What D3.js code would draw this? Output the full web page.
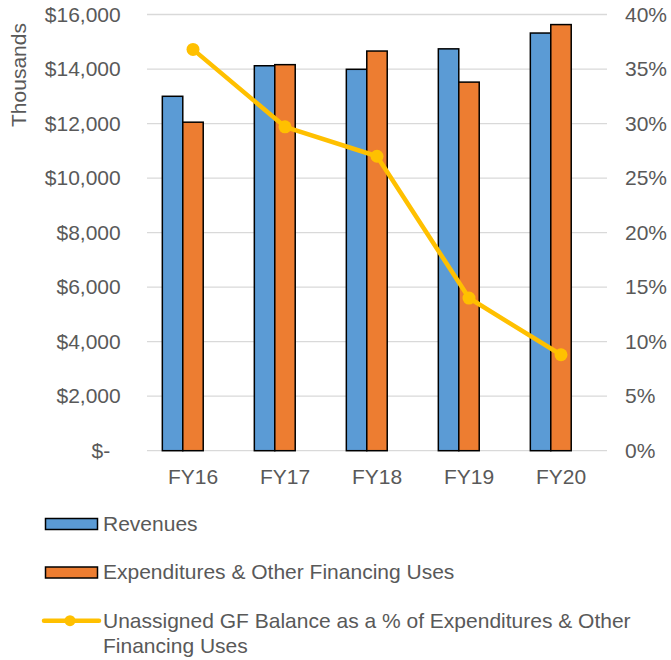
<!DOCTYPE html>
<html lang="en">
<head>
<meta charset="utf-8">
<title>Revenues and Expenditures FY16-FY20</title>
<script src="https://cdn.jsdelivr.net/npm/d3@7"></script>
<style>
    body { margin: 0; background: #fff; }
    text { font-family: "Liberation Sans", Arial, sans-serif; fill: #595959; }
</style>
</head>
<body>
<script>
/* data */
var years = ["FY16", "FY17", "FY18", "FY19", "FY20"];
var revenues = [13000, 14120, 13990, 14740, 15320];
var expenditures = [12050, 14160, 14660, 13520, 15630];
var balancePct = [36.8, 29.7, 27.0, 14.0, 8.8];
var leftTicks = [0, 2000, 4000, 6000, 8000, 10000, 12000, 14000, 16000];
var rightTicks = [0, 5, 10, 15, 20, 25, 30, 35, 40];
var seriesNames = ["Revenues", "Expenditures & Other Financing Uses",
    "Unassigned GF Balance as a % of Expenditures & Other Financing Uses"];

var W = 671, H = 660;
var margin = {top: 14.5, right: 64, bottom: 209.3, left: 147};
var width = W - margin.left - margin.right;
var height = H - margin.top - margin.bottom;

var svg = d3.select("body").append("svg")
    .attr("width", W).attr("height", H);
var g = svg.append("g")
    .attr("transform", "translate(" + margin.left + "," + margin.top + ")");

/* scales */
var x0 = d3.scaleBand().domain(years).range([0, width])
    .paddingInner(1 / 3).paddingOuter(1 / 6);
/* third slot stays empty, as in the original chart */
var x1 = d3.scaleBand().domain(["rev", "exp", "none"]).range([0, x0.bandwidth()]);
var y = d3.scaleLinear().domain([0, 16000]).range([height, 0]);
var y2 = d3.scaleLinear().domain([0, 40]).range([height, 0]);

/* gridlines */
g.append("g").selectAll("line").data(leftTicks).enter().append("line")
    .attr("x1", 0).attr("x2", width)
    .attr("y1", function(d) { return y(d); })
    .attr("y2", function(d) { return y(d); })
    .attr("stroke", "#d9d9d9").attr("stroke-width", 1.3);

/* bars */
var rows = years.map(function(yr, i) {
    return {year: yr, rev: revenues[i], exp: expenditures[i]};
});
var groups = g.selectAll(".grp").data(rows).enter().append("g")
    .attr("class", "grp")
    .attr("transform", function(d) { return "translate(" + x0(d.year) + ",0)"; });
groups.append("rect")
    .attr("x", x1("rev")).attr("width", x1.bandwidth())
    .attr("y", function(d) { return y(d.rev); })
    .attr("height", function(d) { return height - y(d.rev); })
    .attr("fill", "#5b9bd5").attr("stroke", "#000").attr("stroke-width", 1.5);
groups.append("rect")
    .attr("x", x1("exp")).attr("width", x1.bandwidth())
    .attr("y", function(d) { return y(d.exp); })
    .attr("height", function(d) { return height - y(d.exp); })
    .attr("fill", "#ed7d31").attr("stroke", "#000").attr("stroke-width", 1.5);

/* line on the right axis */
var cx = function(i) { return x0(years[i]) + x0.bandwidth() / 2; };
var line = d3.line()
    .x(function(d, i) { return cx(i); })
    .y(function(d) { return y2(d); });
g.append("path").datum(balancePct)
    .attr("d", line).attr("fill", "none")
    .attr("stroke", "#ffc000").attr("stroke-width", 4.5)
    .attr("stroke-linejoin", "round");
g.selectAll(".dot").data(balancePct).enter().append("circle")
    .attr("class", "dot")
    .attr("cx", function(d, i) { return cx(i); })
    .attr("cy", function(d) { return y2(d); })
    .attr("r", 6.5).attr("fill", "#ffc000");

/* axes */
var fmtMoney = function(d) { return d === 0 ? "$-" : "$" + d3.format(",")(d); };
var yAxis = g.append("g")
    .call(d3.axisLeft(y).tickValues(leftTicks).tickFormat(fmtMoney)
        .tickSize(0).tickPadding(26.3));
yAxis.select(".domain").remove();
yAxis.selectAll("text").style("font-size", "21px").attr("fill", "#595959")
    .attr("dx", function(d) { return d === 0 ? -10.5 : 0; });

var y2Axis = g.append("g")
    .attr("transform", "translate(" + width + ",0)")
    .call(d3.axisRight(y2).tickValues(rightTicks).tickFormat(function(d) { return d + "%"; })
        .tickSize(0).tickPadding(18));
y2Axis.select(".domain").remove();
y2Axis.selectAll("text").style("font-size", "21px").attr("fill", "#595959");

var xAxis = g.append("g")
    .attr("transform", "translate(0," + height + ")")
    .call(d3.axisBottom(x0).tickSize(0).tickPadding(18.6));
xAxis.select(".domain").remove();
xAxis.selectAll("text").style("font-size", "21px").attr("fill", "#595959");

/* axis title */
svg.append("text")
    .attr("transform", "translate(25.5,75) rotate(-90)")
    .attr("text-anchor", "middle")
    .style("font-size", "21px")
    .text("Thousands");

/* legend */
var legend = svg.append("g");
legend.append("rect").attr("x", 45.5).attr("y", 518.5).attr("width", 52).attr("height", 11)
    .attr("fill", "#5b9bd5").attr("stroke", "#000").attr("stroke-width", 1.5);
legend.append("text").attr("x", 103).attr("y", 523.5).attr("dy", "0.35em")
    .style("font-size", "21px").text(seriesNames[0]);
legend.append("rect").attr("x", 45.5).attr("y", 567).attr("width", 52).attr("height", 11)
    .attr("fill", "#ed7d31").attr("stroke", "#000").attr("stroke-width", 1.5);
legend.append("text").attr("x", 103).attr("y", 572).attr("dy", "0.35em")
    .style("font-size", "21px").text(seriesNames[1]);
legend.append("line").attr("x1", 44).attr("x2", 99).attr("y1", 620.7).attr("y2", 620.7)
    .attr("stroke", "#ffc000").attr("stroke-width", 4.5).attr("stroke-linecap", "round");
legend.append("circle").attr("cx", 70).attr("cy", 620.7).attr("r", 5.5).attr("fill", "#ffc000");
var lt = legend.append("text").attr("x", 103).attr("y", 621).style("font-size", "21px");
lt.append("tspan").attr("x", 103).attr("dy", "0.35em")
    .text("Unassigned GF Balance as a % of Expenditures & Other");
lt.append("tspan").attr("x", 103).attr("dy", "1.18em").text("Financing Uses");
</script>
</body>
</html>
